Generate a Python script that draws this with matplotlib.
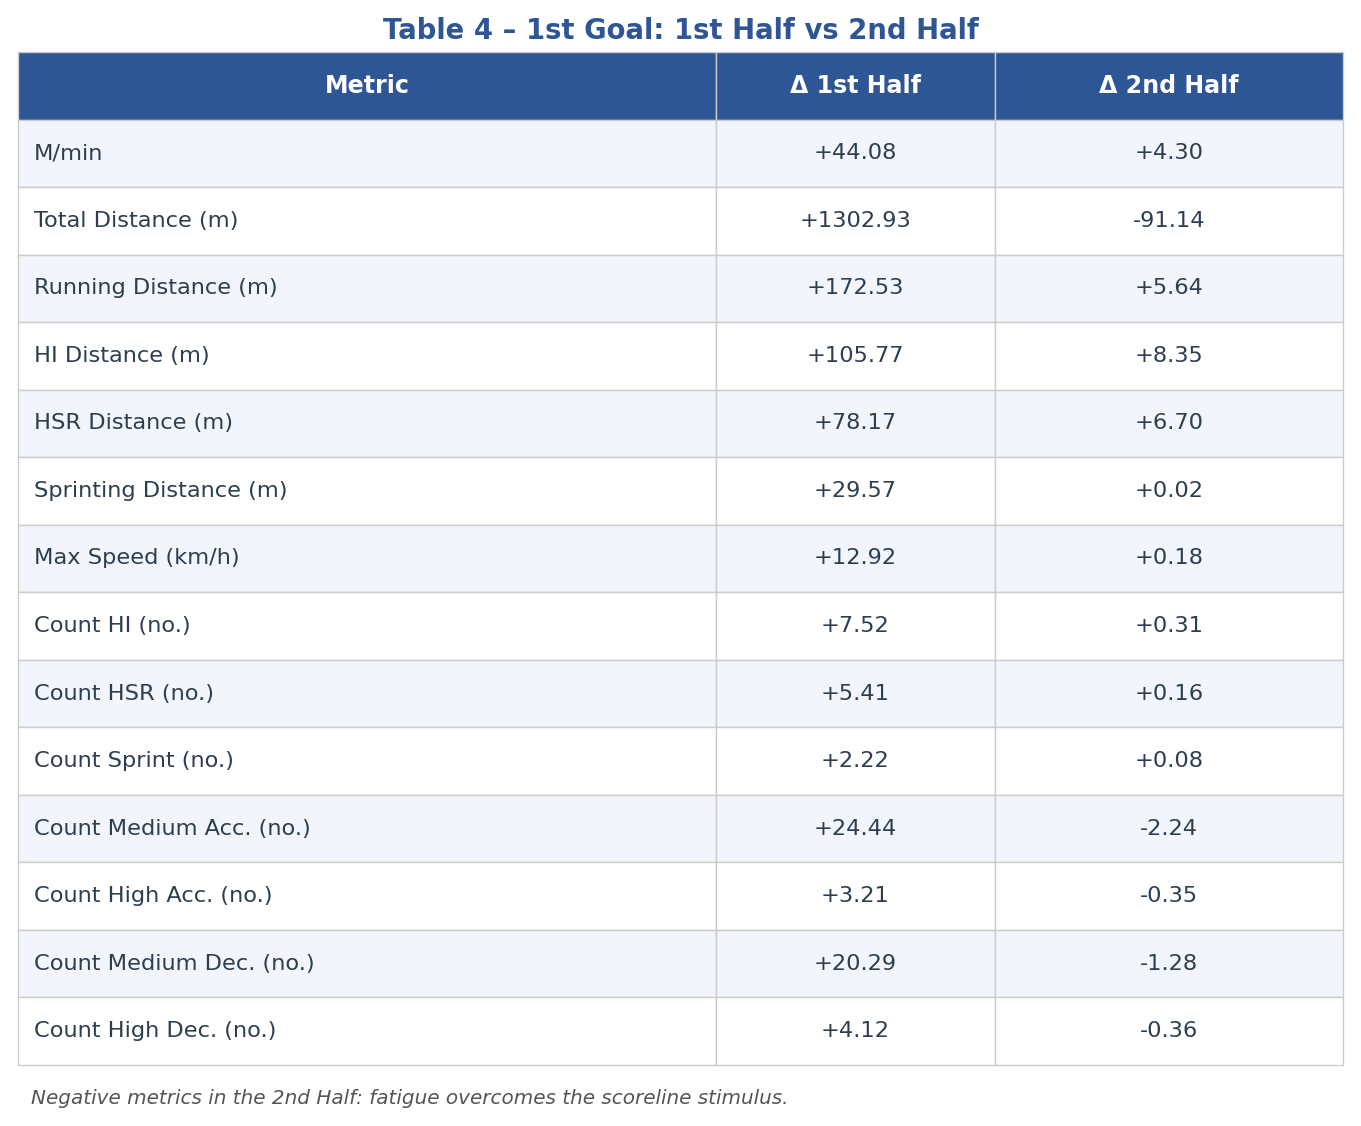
import matplotlib.pyplot as plt
from matplotlib.patches import Rectangle

metrics = ['M/min', 'Total Distance (m)', 'Running Distance (m)', 'HI Distance (m)',
           'HSR Distance (m)', 'Sprinting Distance (m)', 'Max Speed (km/h)',
           'Count HI (no.)', 'Count HSR (no.)', 'Count Sprint (no.)',
           'Count Medium Acc. (no.)', 'Count High Acc. (no.)',
           'Count Medium Dec. (no.)', 'Count High Dec. (no.)']
delta_1st = [44.08, 1302.93, 172.53, 105.77, 78.17, 29.57, 12.92,
             7.52, 5.41, 2.22, 24.44, 3.21, 20.29, 4.12]
delta_2nd = [4.30, -91.14, 5.64, 8.35, 6.70, 0.02, 0.18,
             0.31, 0.16, 0.08, -2.24, -0.35, -1.28, -0.36]
headers = ['Metric', 'Δ 1st Half', 'Δ 2nd Half']

blue = '#2E5594'
txt = '#2C3E50'
line = '#CCCCCC'

W, H = 1361, 1126
fig = plt.figure(figsize=(W / 100, H / 100), dpi=100)
ax = fig.add_axes([0, 0, 1, 1])
ax.set_xlim(0, W)
ax.set_ylim(H, 0)
ax.axis('off')

cols = [18, 716, 995, 1343]
top = 52
rh = (1065 - top) / (len(metrics) + 1)

# header
for j in range(3):
    ax.add_patch(Rectangle((cols[j], top), cols[j + 1] - cols[j], rh,
                           facecolor=blue, edgecolor=line, lw=1))
    ax.text((cols[j] + cols[j + 1]) / 2, top + rh / 2, headers[j], color='white',
            fontsize=17.1, fontweight='bold', ha='center', va='center')

for i, m in enumerate(metrics):
    y = top + rh * (i + 1)
    bg = '#F2F5FC' if i % 2 == 0 else 'white'
    for j in range(3):
        ax.add_patch(Rectangle((cols[j], y), cols[j + 1] - cols[j], rh,
                               facecolor=bg, edgecolor=line, lw=1))
    yc = y + rh / 2
    ax.text(cols[0] + 16, yc, m, color=txt, fontsize=16.2, ha='left', va='center')
    ax.text((cols[1] + cols[2]) / 2, yc, f'{delta_1st[i]:+.2f}', color=txt,
            fontsize=16.2, ha='center', va='center')
    ax.text((cols[2] + cols[3]) / 2, yc, f'{delta_2nd[i]:+.2f}', color=txt,
            fontsize=16.2, ha='center', va='center')

ax.text(W / 2, 31, 'Table 4 – 1st Goal: 1st Half vs 2nd Half', color=blue,
        fontsize=19.8, fontweight='bold', ha='center', va='center')
ax.text(31, 1098, 'Negative metrics in the 2nd Half: fatigue overcomes the scoreline stimulus.',
        color='#555555', fontsize=14.4, style='italic', ha='left', va='center')

fig.savefig('out.png', dpi=100)
